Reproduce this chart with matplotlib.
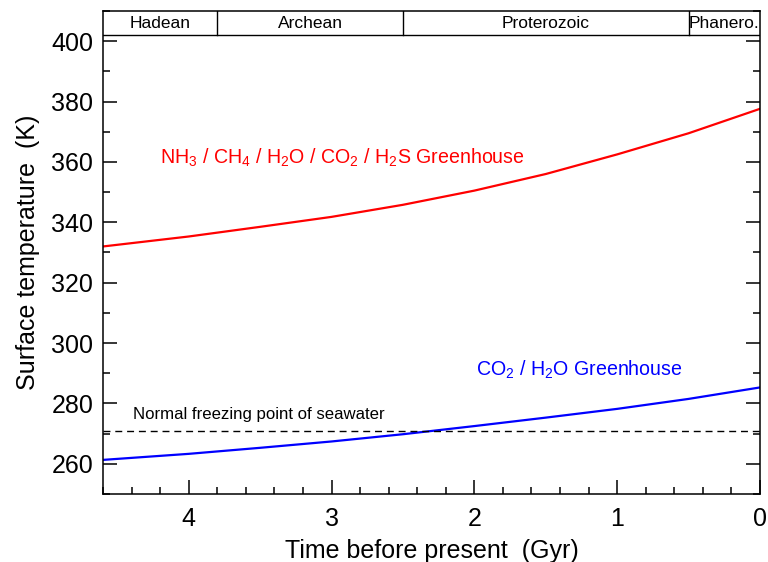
import matplotlib
matplotlib.use("Agg")
import matplotlib.pyplot as plt
from matplotlib.ticker import MultipleLocator

plt.rcParams['font.family'] = ['Liberation Sans', 'DejaVu Sans']
plt.rcParams['mathtext.fontset'] = 'custom'
plt.rcParams['mathtext.rm'] = 'Liberation Sans'
plt.rcParams['mathtext.it'] = 'Liberation Sans:italic'
plt.rcParams['mathtext.bf'] = 'Liberation Sans:bold'
plt.rcParams['mathtext.sf'] = 'Liberation Sans'

# Data
time_gyr = [4.6, 4.0, 3.5, 3.0, 2.5, 2.0, 1.5, 1.0, 0.5, 0.0]
temp_nh3 = [332.0, 335.3, 338.5, 341.8, 345.8, 350.5, 356.0, 362.5, 369.5, 377.6]
temp_co2 = [261.3, 263.3, 265.3, 267.4, 269.8, 272.5, 275.3, 278.2, 281.5, 285.3]
freezing_point = 271.0

eon_names = ["Hadean", "Archean", "Proterozoic", "Phanero."]
eon_starts = [4.6, 3.8, 2.5, 0.5]
eon_ends = [3.8, 2.5, 0.5, 0.0]

xlim = (4.6, 0.0)
ylim = (250, 410)
band_bottom = 402

fig = plt.figure(figsize=(7.68, 5.62), dpi=100)
ax = fig.add_axes([103/768, 1-494/562, (760-103)/768, (494-11)/562])

ax.plot(time_gyr, temp_nh3, color='#ff0000', lw=1.6)
ax.plot(time_gyr, temp_co2, color='#0000ff', lw=1.6)
ax.axhline(freezing_point, color='black', lw=1.0, ls=(0, (5, 3.5)))

# eon band
ax.axhline(band_bottom, color='black', lw=1.0)
for s, e, name in zip(eon_starts, eon_ends, eon_names):
    if s != xlim[0]:
        ax.plot([s, s], [band_bottom, ylim[1]], color='black', lw=1.0)
    ax.text((s + e) / 2, (band_bottom + ylim[1]) / 2, name, ha='center',
            va='center', fontsize=12.5)

ax.text(4.2, 361.3, r"NH$_3$ / CH$_4$ / H$_2$O / CO$_2$ / H$_2$S Greenhouse",
        color='#ff0000', fontsize=14.1, ha='left', va='center')
ax.text(1.99, 291, r"CO$_2$ / H$_2$O Greenhouse", color='#0000ff',
        fontsize=14.1, ha='left', va='center')
ax.text(4.39, 276.3, "Normal freezing point of seawater", color='black',
        fontsize=12.1, ha='left', va='center')

ax.set_xlim(*xlim)
ax.set_ylim(*ylim)
ax.xaxis.set_major_locator(MultipleLocator(1))
ax.xaxis.set_minor_locator(MultipleLocator(0.2))
ax.yaxis.set_major_locator(MultipleLocator(20))
ax.yaxis.set_minor_locator(MultipleLocator(10))
ax.set_yticks([260, 280, 300, 320, 340, 360, 380, 400])

ax.tick_params(which='both', direction='in', top=False, right=True,
               labelsize=18, width=1.1)
ax.tick_params(which='major', length=10, pad=7)
ax.tick_params(axis='x', which='major', pad=9)
ax.tick_params(which='minor', length=5)
ax.xaxis.set_major_formatter(plt.FuncFormatter(lambda v, p: f"{v:g}"))

for sp in ax.spines.values():
    sp.set_linewidth(1.1)

ax.set_xlabel("Time before present  (Gyr)", fontsize=18, labelpad=6)
ax.set_ylabel("Surface temperature  (K)", fontsize=18, labelpad=8)

fig.savefig("out.png", dpi=100)
